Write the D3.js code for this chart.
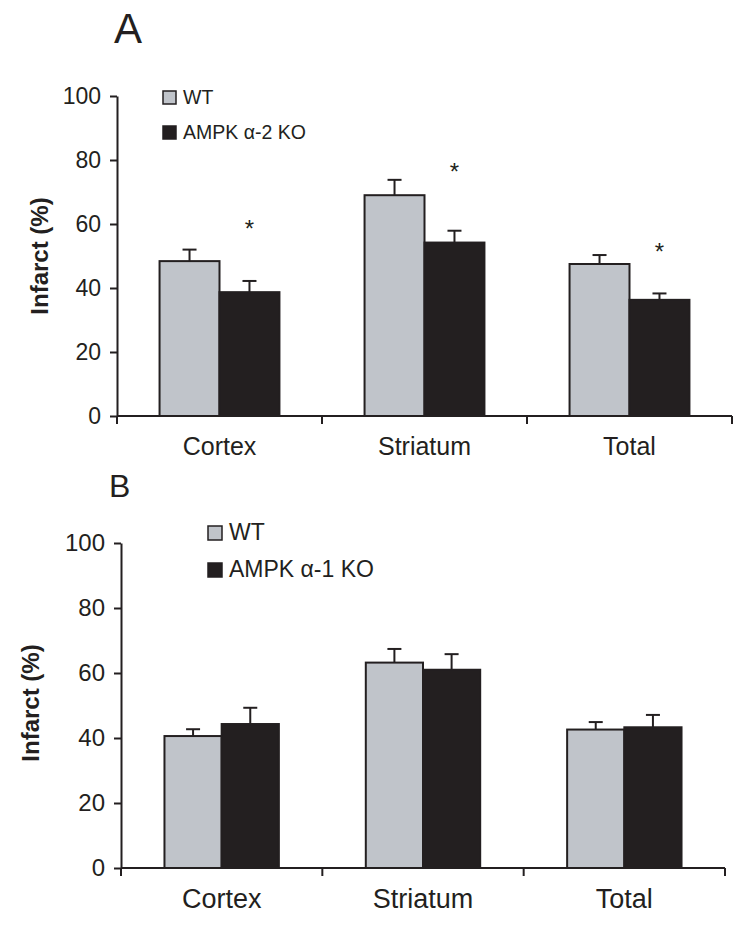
<!DOCTYPE html>
<html>
<head>
<meta charset="utf-8">
<script src="https://cdn.jsdelivr.net/npm/d3@7"></script>
<style>
  body { margin: 0; background: #fff; }
  text { font-family: Arial, "Liberation Sans", sans-serif; fill: #231f20; }
</style>
</head>
<body>
<div id="chart"></div>
<script>
// data
const categories = ["Cortex", "Striatum", "Total"];
const yTicks = [0, 20, 40, 60, 80, 100];

const seriesA = ["WT", "AMPK α-2 KO"];
const wtA = [48.4, 69.0, 47.5];
const wtErrA = [3.6, 4.8, 2.8];
const koA = [38.7, 54.2, 36.3];
const koErrA = [3.5, 3.7, 2.0];
const starA = [60, 78, 53]; // asterisk heights (% units)

const seriesB = ["WT", "AMPK α-1 KO"];
const wtB = [40.6, 63.2, 42.6];
const wtErrB = [2.1, 4.2, 2.3];
const koB = [44.3, 61.0, 43.3];
const koErrB = [5.0, 4.8, 3.8];

const colors = ["#c0c4ca", "#231f20"];
const ink = "#231f20";

const svg = d3.select("#chart").append("svg")
  .attr("width", 750)
  .attr("height", 927);

function drawPanel(p) {
  const g = svg.append("g");

  const y = d3.scaleLinear().domain([0, 100]).range([p.bottom, p.top]);
  const x0 = d3.scaleBand().domain(categories).range([p.left, p.right]).padding(0);
  const x1 = d3.scaleBand().domain(p.series).range([0, x0.bandwidth()])
    .paddingInner(0).paddingOuter(p.barPad);

  // panel letter
  g.append("text")
    .attr("x", p.letterX).attr("y", p.letterY)
    .style("font-size", p.letterSize + "px")
    .text(p.letter);

  // bars
  const rows = categories.map((c, i) => ({
    cat: c,
    vals: [
      { s: p.series[0], v: p.wt[i], e: p.wtErr[i], k: 0 },
      { s: p.series[1], v: p.ko[i], e: p.koErr[i], k: 1 }
    ]
  }));

  const grp = g.selectAll("g.cat").data(rows).enter().append("g")
    .attr("class", "cat")
    .attr("transform", d => `translate(${x0(d.cat)},0)`);

  // error bars (upper only)
  grp.selectAll("g.err").data(d => d.vals).enter().append("g")
    .attr("class", "err")
    .each(function(d) {
      const cx = x1(d.s) + x1.bandwidth() / 2;
      const e = d3.select(this);
      e.append("line")
        .attr("x1", cx).attr("x2", cx)
        .attr("y1", y(d.v)).attr("y2", y(d.v + d.e))
        .attr("stroke", ink).attr("stroke-width", 2);
      e.append("line")
        .attr("x1", cx - 7).attr("x2", cx + 7)
        .attr("y1", y(d.v + d.e)).attr("y2", y(d.v + d.e))
        .attr("stroke", ink).attr("stroke-width", 2);
    });

  grp.selectAll("rect").data(d => d.vals).enter().append("rect")
    .attr("x", d => x1(d.s))
    .attr("y", d => y(d.v))
    .attr("width", x1.bandwidth())
    .attr("height", d => y(0) - y(d.v))
    .attr("fill", d => colors[d.k])
    .attr("stroke", ink)
    .attr("stroke-width", 2);

  // significance stars
  if (p.stars) {
    grp.append("text")
      .attr("x", x1(p.series[1]) + x1.bandwidth() / 2)
      .attr("y", (d, i) => y(p.stars[i]))
      .attr("dy", "0.55em")
      .attr("text-anchor", "middle")
      .style("font-size", "24px")
      .text("*");
  }

  // y axis
  const yAxis = g.append("g")
    .attr("transform", `translate(${p.left},0)`)
    .call(d3.axisLeft(y).tickValues(yTicks).tickSize(7).tickPadding(9).tickSizeOuter(0));
  yAxis.select(".domain").attr("stroke", ink).attr("stroke-width", 2);
  yAxis.selectAll(".tick line").attr("stroke", ink).attr("stroke-width", 2);
  yAxis.selectAll(".tick text")
    .style("font-size", p.tickSize + "px")
    .style("font-family", "Arial, 'Liberation Sans', sans-serif")
    .attr("fill", ink);

  // x axis: ticks at group boundaries
  const xAxis = g.append("g");
  xAxis.append("line")
    .attr("x1", p.left).attr("x2", p.right)
    .attr("y1", y(0)).attr("y2", y(0))
    .attr("stroke", ink).attr("stroke-width", 2);
  const bounds = categories.map(c => x0(c)).concat([x0.range()[1]]);
  xAxis.selectAll("line.b").data(bounds).enter().append("line")
    .attr("class", "b")
    .attr("x1", d => d).attr("x2", d => d)
    .attr("y1", y(0)).attr("y2", y(0) + 8)
    .attr("stroke", ink).attr("stroke-width", 2);
  xAxis.selectAll("text").data(categories).enter().append("text")
    .attr("x", d => x0(d) + x0.bandwidth() / 2)
    .attr("y", y(0) + p.catDy)
    .attr("text-anchor", "middle")
    .style("font-size", p.catSize + "px")
    .text(d => d);

  // y label
  g.append("text")
    .attr("transform", `translate(${p.ylabX},${p.ylabY}) rotate(-90)`)
    .attr("text-anchor", "middle")
    .style("font-size", "24px")
    .style("font-weight", "bold")
    .text("Infarct (%)");

  // legend
  const lg = g.append("g").attr("transform", `translate(${p.legX},${p.legY})`);
  p.series.forEach((s, i) => {
    lg.append("rect")
      .attr("x", 0).attr("y", i * p.legGap)
      .attr("width", p.sw).attr("height", p.sw)
      .attr("fill", colors[i]).attr("stroke", ink).attr("stroke-width", 1.5);
    lg.append("text")
      .attr("x", p.sw + 7).attr("y", i * p.legGap + p.sw)
      .style("font-size", p.legSize + "px")
      .text(s);
  });
}

drawPanel({
  letter: "A", letterX: 114, letterY: 43, letterSize: 42,
  series: seriesA, wt: wtA, wtErr: wtErrA, ko: koA, koErr: koErrA, stars: starA,
  left: 117, right: 732, top: 96, bottom: 416, barPad: 0.71,
  tickSize: 23, catSize: 25, catDy: 39,
  ylabX: 48, ylabY: 256,
  legX: 163, legY: 91, legGap: 35, sw: 13, legSize: 19.5
});

drawPanel({
  letter: "B", letterX: 109, letterY: 497, letterSize: 32,
  series: seriesB, wt: wtB, wtErr: wtErrB, ko: koB, koErr: koErrB, stars: null,
  left: 121, right: 725, top: 543, bottom: 868, barPad: 0.76,
  tickSize: 24, catSize: 27, catDy: 40,
  ylabX: 39, ylabY: 703,
  legX: 208, legY: 526, legGap: 37, sw: 14, legSize: 23
});
</script>
</body>
</html>
